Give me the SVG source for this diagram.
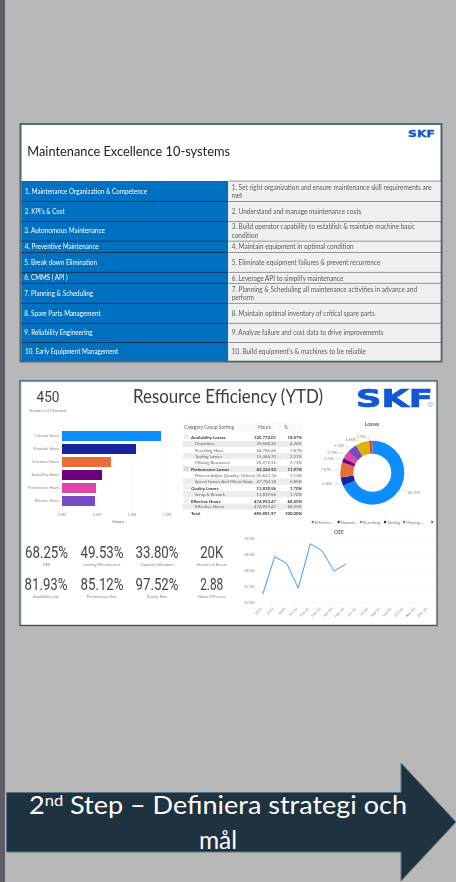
<svg xmlns="http://www.w3.org/2000/svg" width="456" height="882" viewBox="0 0 456 882">
<defs>
<filter id="soft" x="-2%" y="-2%" width="104%" height="104%"><feGaussianBlur stdDeviation="0.38"/></filter>
</defs>
<style>
text{font-family:"Lato","Open Sans","Liberation Sans",sans-serif}
.l{font-size:6.6px;fill:#fff}
.r{font-size:6.6px;fill:#595959}
.sepL{stroke:#12395a;stroke-width:1}
.sepR{stroke:#8f9699;stroke-width:1}
.ax{font-size:3.6px;fill:#8a8a8a}
.axr{font-size:3.6px;fill:#8a8a8a;text-anchor:end}
.axm{font-size:3.6px;fill:#8a8a8a;text-anchor:middle}
.lg{font-size:4.2px;fill:#777}
.grid{stroke:#e4e4e4;stroke-width:.6;stroke-dasharray:.8 1.2;fill:none}
.tb{font-size:4.3px;fill:#666}
.tbb{font-size:4.3px;fill:#333;font-weight:700}
.num{font-size:4.3px;fill:#666;text-anchor:end}
.numb{font-size:4.3px;fill:#333;font-weight:700;text-anchor:end}
.kpi{font-family:"Roboto","Liberation Sans",sans-serif;font-size:16px;fill:#444;text-anchor:middle}
.kl{font-size:3.9px;fill:#888;text-anchor:middle}
.lead{stroke:#bbb;stroke-width:.5;fill:none}
.logo{font-family:"DejaVu Sans",sans-serif;font-weight:700;fill:#1257d6;stroke:#1257d6}
</style>
<rect width="456" height="882" fill="#b8b8b8"/>
<rect x="0" y="0" width="5" height="882" fill="#5f5e66"/>

<g id="slide-maintenance" filter="url(#soft)">
<rect x="20.500" y="124" width="421" height="237.500" fill="#fff" stroke="#4f6472" stroke-width="1.600"/>
<text class="logo" x="408" y="136.600" font-size="9" stroke-width=".3" textLength="27" lengthAdjust="spacingAndGlyphs">SKF</text>
<text x="27.300" y="155.700" font-size="14.200" fill="#222" textLength="202.700" lengthAdjust="spacingAndGlyphs">Maintenance Excellence 10-systems</text>
<rect x="21.300" y="181" width="207" height="180" fill="#0070c0"/>
<rect x="228.300" y="181" width="212.400" height="180" fill="#f0f0f0"/>
<g>
<path class="sepL" d="M21 201.500H228M21 221.500H228M21 241.200H228M21 252.500H228M21 272.400H228M21 283.400H228M21 303.400H228M21 323.400H228M21 342.500H228"/>
<path class="sepR" d="M228.500 181H441M228.500 201.500H441M228.500 221.500H441M228.500 241.200H441M228.500 252.500H441M228.500 272.400H441M228.500 283.400H441M228.500 303.400H441M228.500 323.400H441M228.500 342.500H441"/>
</g>
<text class="l" x="25" y="193.900" textLength="122" lengthAdjust="spacingAndGlyphs">1. Maintenance Organization &amp; Competence</text>
<text class="l" x="24.700" y="213.900" textLength="40" lengthAdjust="spacingAndGlyphs">2. KPI's &amp; Cost</text>
<text class="l" x="24.300" y="233.200" textLength="80.700" lengthAdjust="spacingAndGlyphs">3. Autonomous Maintenance</text>
<text class="l" x="24.700" y="249.200" textLength="74" lengthAdjust="spacingAndGlyphs">4. Preventive Maintenance</text>
<text class="l" x="24.300" y="264.900" textLength="72.700" lengthAdjust="spacingAndGlyphs">5. Break down Elimination</text>
<text class="l" x="24.300" y="280.200" textLength="43.400" lengthAdjust="spacingAndGlyphs">6. CMMS ( API )</text>
<text class="l" x="24.300" y="296.200" textLength="68.700" lengthAdjust="spacingAndGlyphs">7. Planning &amp; Scheduling</text>
<text class="l" x="24.300" y="315.900" textLength="76.400" lengthAdjust="spacingAndGlyphs">8. Spare Parts Management</text>
<text class="l" x="24.300" y="335.200" textLength="68.400" lengthAdjust="spacingAndGlyphs">9. Reliability Engineering</text>
<text class="l" x="25" y="354.200" textLength="93.300" lengthAdjust="spacingAndGlyphs">10. Early Equipment Management</text>
<text class="r" x="231.700" y="189.500" textLength="199.600" lengthAdjust="spacingAndGlyphs">1. Set right organization and ensure maintenance skill requirements are</text>
<text class="r" x="231.700" y="198.200" textLength="10.600" lengthAdjust="spacingAndGlyphs">met</text>
<text class="r" x="231.700" y="213.900" textLength="129.600" lengthAdjust="spacingAndGlyphs">2. Understand and manage maintenance costs</text>
<text class="r" x="231.700" y="229.200" textLength="183.300" lengthAdjust="spacingAndGlyphs">3. Build operator capability to establish &amp; maintain machine basic</text>
<text class="r" x="231.700" y="237.900" textLength="26.600" lengthAdjust="spacingAndGlyphs">condition</text>
<text class="r" x="231.700" y="249.200" textLength="122" lengthAdjust="spacingAndGlyphs">4. Maintain equipment in optimal condition</text>
<text class="r" x="231.700" y="264.900" textLength="148.600" lengthAdjust="spacingAndGlyphs">5. Eliminate equipment failures &amp; prevent recurrence</text>
<text class="r" x="231.700" y="280.500" textLength="111.600" lengthAdjust="spacingAndGlyphs">6. Leverage API to simplify maintenance</text>
<text class="r" x="231.700" y="291.900" textLength="185.300" lengthAdjust="spacingAndGlyphs">7. Planning &amp; Scheduling all maintenance activities in advance and</text>
<text class="r" x="231.700" y="300.200" textLength="22.300" lengthAdjust="spacingAndGlyphs">perform</text>
<text class="r" x="231.700" y="315.900" textLength="143" lengthAdjust="spacingAndGlyphs">8. Maintain optimal inventory of critical spare parts</text>
<text class="r" x="231.700" y="335.200" textLength="151.600" lengthAdjust="spacingAndGlyphs">9. Analyze failure and cost data to drive improvements</text>
<text class="r" x="231.700" y="353.900" textLength="134.300" lengthAdjust="spacingAndGlyphs">10. Build equipment's &amp; machines to be reliable</text>
<rect x="20.500" y="124" width="421" height="237.500" fill="none" stroke="#4f6472" stroke-width="1.600"/>
</g>

<g id="slide-resource" filter="url(#soft)">
<rect x="20" y="381" width="417" height="244.500" fill="#fff" stroke="#3f5563" stroke-width="1.400"/>
<rect x="21.200" y="382" width="414.800" height="242.400" fill="none" stroke="#cfcfcf" stroke-width=".6"/>
<text x="48" y="401.700" font-size="15.500" fill="#444" text-anchor="middle" style="font-family:Roboto,sans-serif" textLength="23" lengthAdjust="spacingAndGlyphs">450</text>
<text x="48" y="411.800" font-size="4.200" fill="#888" text-anchor="middle">Number of Channels</text>
<text x="133" y="403" font-size="18.800" fill="#3c3c3c" textLength="190" lengthAdjust="spacingAndGlyphs">Resource Efficiency (YTD)</text>
<text class="logo" x="356" y="406.500" font-size="24" stroke-width=".7" textLength="77" lengthAdjust="spacingAndGlyphs">SKF</text>
<circle cx="430.500" cy="404.500" r="1.800" fill="none" stroke="#6f9fe0" stroke-width=".8"/>

<g id="bar-chart">
<path class="grid" d="M97 425V510M132 425V510M167 425V510"/>
<rect x="62" y="431" width="99" height="10" fill="#118dff"/>
<rect x="62" y="444" width="74" height="10" fill="#12239e"/>
<rect x="62" y="457" width="49" height="10" fill="#e66c37"/>
<rect x="62" y="470" width="40" height="10" fill="#6b007b"/>
<rect x="62" y="483" width="34" height="10" fill="#e044a7"/>
<rect x="62" y="496" width="33" height="10" fill="#744ec2"/>
<text class="axr" x="59" y="437.300">Calendar Hours</text>
<text class="axr" x="59" y="450.300">Plannable Hours</text>
<text class="axr" x="59" y="463.300">Scheduled Hours</text>
<text class="axr" x="59" y="476.300">Availability Hours</text>
<text class="axr" x="59" y="489.300">Performance Hours</text>
<text class="axr" x="59" y="502.300">Effective Hours</text>
<text class="axm" x="62" y="516.200">0.0M</text>
<text class="axm" x="97" y="516.200">0.5M</text>
<text class="axm" x="132" y="516.200">1.0M</text>
<text class="axm" x="167" y="516.200">1.5M</text>
<text x="118" y="522.500" font-size="4.400" fill="#666" text-anchor="middle">Hours</text>
</g>

<g id="loss-table">
<rect x="183" y="422" width="119" height="10" fill="#fbfbfb"/>
<path d="M256.500 422V516M280 422V516" stroke="#efefef" stroke-width=".6"/>
<rect x="183" y="440.800" width="119" height="6.200" fill="#ececec"/>
<rect x="183" y="453" width="119" height="6.200" fill="#ececec"/>
<rect x="183" y="465.800" width="119" height="6.200" fill="#ececec"/>
<rect x="183" y="478.500" width="119" height="6.200" fill="#ececec"/>
<rect x="183" y="491" width="119" height="6.200" fill="#ececec"/>
<rect x="183" y="503.500" width="119" height="6.200" fill="#ececec"/>
<text x="184" y="428.500" font-size="4.800" fill="#666">Category Group Sorting</text>
<text x="258" y="428.500" font-size="4.800" fill="#666">Hours</text>
<text x="284" y="428.500" font-size="4.800" fill="#666">%</text>
<g fill="none" stroke="#aaa" stroke-width=".4">
<rect x="185" y="435" width="3" height="3"/><rect x="185" y="467.400" width="3" height="3"/><rect x="185" y="486" width="3" height="3"/><rect x="185" y="498.900" width="3" height="3"/>
</g>
<text class="tbb" x="191" y="438.600">Availability Losses</text><text class="numb" x="276" y="438.600">125,772.01</text><text class="numb" x="302" y="438.600">18.07%</text>
<text class="tb" x="195" y="444.900">Downtime</text><text class="num" x="276" y="444.900">29,668.26</text><text class="num" x="302" y="444.900">4.26%</text>
<text class="tb" x="195" y="451.600">Resetting Hour</text><text class="num" x="276" y="451.600">54,766.66</text><text class="num" x="302" y="451.600">7.87%</text>
<text class="tb" x="195" y="457.600">Tooling Losses</text><text class="num" x="276" y="457.600">15,366.70</text><text class="num" x="302" y="457.600">2.21%</text>
<text class="tb" x="195" y="463.900">Missing Resources</text><text class="num" x="276" y="463.900">25,972.35</text><text class="num" x="302" y="463.900">3.73%</text>
<text class="tbb" x="191" y="470.900">Performance Losses</text><text class="numb" x="276" y="470.900">83,324.92</text><text class="numb" x="302" y="470.900">11.97%</text>
<text class="tb" x="195" y="476.900" textLength="60" lengthAdjust="spacingAndGlyphs">Process Adjust (Quality, Others)</text><text class="num" x="276" y="476.900">35,623.74</text><text class="num" x="302" y="476.900">5.12%</text>
<text class="tb" x="195" y="483.300" textLength="58" lengthAdjust="spacingAndGlyphs">Speed Losses And Minor Stops</text><text class="num" x="276" y="483.300">47,700.18</text><text class="num" x="302" y="483.300">6.85%</text>
<text class="tbb" x="191" y="489.600">Quality Losses</text><text class="numb" x="276" y="489.600">11,839.56</text><text class="numb" x="302" y="489.600">1.70%</text>
<text class="tb" x="195" y="495.900">Scrap &amp; Rework</text><text class="num" x="276" y="495.900">11,839.56</text><text class="num" x="302" y="495.900">1.70%</text>
<text class="tbb" x="191" y="502.500">Effective Hours</text><text class="numb" x="276" y="502.500">474,953.47</text><text class="numb" x="302" y="502.500">68.25%</text>
<text class="tb" x="195" y="508.300">Effective Hours</text><text class="num" x="276" y="508.300">474,953.47</text><text class="num" x="302" y="508.300">68.25%</text>
<text class="tbb" x="191" y="514.600">Total</text><text class="numb" x="276" y="514.600">695,891.97</text><text class="numb" x="302" y="514.600">100.00%</text>
</g>

<g id="donut">
<text x="372" y="426" font-size="5" fill="#666" text-anchor="middle" font-weight="700">Losses</text>
<g transform="rotate(-90 372.300 472.700)" fill="none" stroke-width="13">
<circle cx="372.300" cy="472.700" r="25.500" pathLength="100" stroke="#118dff" stroke-dasharray="68.25 100"/>
<circle cx="372.300" cy="472.700" r="25.500" pathLength="100" stroke="#12239e" stroke-dasharray="4.26 100" stroke-dashoffset="-68.25"/>
<circle cx="372.300" cy="472.700" r="25.500" pathLength="100" stroke="#e66c37" stroke-dasharray="7.87 100" stroke-dashoffset="-72.51"/>
<circle cx="372.300" cy="472.700" r="25.500" pathLength="100" stroke="#6b007b" stroke-dasharray="2.21 100" stroke-dashoffset="-80.38"/>
<circle cx="372.300" cy="472.700" r="25.500" pathLength="100" stroke="#e044a7" stroke-dasharray="3.73 100" stroke-dashoffset="-82.59"/>
<circle cx="372.300" cy="472.700" r="25.500" pathLength="100" stroke="#744ec2" stroke-dasharray="5.12 100" stroke-dashoffset="-86.32"/>
<circle cx="372.300" cy="472.700" r="25.500" pathLength="100" stroke="#d9b300" stroke-dasharray="6.85 100" stroke-dashoffset="-91.44"/>
<circle cx="372.300" cy="472.700" r="25.500" pathLength="100" stroke="#d64550" stroke-dasharray="1.71 100" stroke-dashoffset="-98.29"/>
</g>
<path class="lead" d="M401 488L407 492H408M341 484H334M339 470H333M343 460L339 458.700H335M345 454.500L341 453H337M350 448L347 446H345M358 441L355 439H354M369 440V437H367"/>
<text class="ax" x="408" y="494">68.25%</text>
<text class="ax" x="322" y="485.200">4.26%</text>
<text class="ax" x="321" y="471.200">7.87%</text>
<text class="ax" x="324" y="460.200">2.21%</text>
<text class="ax" x="327" y="454.200">3.73%</text>
<text class="ax" x="334" y="447.200">5.12%</text>
<text class="ax" x="345.500" y="440.500">6.85%</text>
<text class="ax" x="356" y="438">1.70%</text>
</g>

<g id="legend">
<circle cx="312.700" cy="522" r="1.200" fill="#118dff"/><text class="lg" x="314.800" y="523.500">Effective ...</text>
<circle cx="338.700" cy="522" r="1.200" fill="#12239e"/><text class="lg" x="340.800" y="523.500">Downti...</text>
<circle cx="361" cy="522" r="1.200" fill="#e66c37"/><text class="lg" x="363" y="523.500">Resetting</text>
<circle cx="385" cy="522" r="1.200" fill="#6b007b"/><text class="lg" x="387" y="523.500">Tooling</text>
<circle cx="404" cy="522" r="1.200" fill="#e044a7"/><text class="lg" x="406" y="523.500">Missing ...</text>
<path d="M431.500 520.500L433.500 522L431.500 523.500Z" fill="#333"/>
</g>

<g id="line-chart">
<text x="339" y="533.800" font-size="5" fill="#666" text-anchor="middle" font-weight="700">OEE</text>
<path class="grid" d="M257 539H434M257 555H434M257 571H434M257 587H434M257 603H434"/>
<text class="ax" x="244.500" y="540.200">69.0%</text>
<text class="ax" x="244.500" y="556.200">68.5%</text>
<text class="ax" x="244.500" y="572.200">68.0%</text>
<text class="ax" x="244.500" y="588.200">67.5%</text>
<text class="ax" x="244.500" y="604.200">67.0%</text>
<polyline points="262.700,594.300 274.700,556.700 286.700,563.300 298.300,588.300 310.300,543.700 322,550.700 334,571 346,564" fill="none" stroke="#3f9bf2" stroke-width="1"/>
<g text-anchor="end">
<text class="ax" transform="translate(262 609) rotate(-45)">2018</text>
<text class="ax" transform="translate(273.800 609) rotate(-45)">2019</text>
<text class="ax" transform="translate(285.600 609) rotate(-45)">2020</text>
<text class="ax" transform="translate(297.400 609) rotate(-45)">Jan-20</text>
<text class="ax" transform="translate(309.200 609) rotate(-45)">Feb-20</text>
<text class="ax" transform="translate(321 609) rotate(-45)">Mar-20</text>
<text class="ax" transform="translate(332.800 609) rotate(-45)">Apr-20</text>
<text class="ax" transform="translate(344.600 609) rotate(-45)">May-20</text>
<text class="ax" transform="translate(356.400 609) rotate(-45)">Jun-20</text>
<text class="ax" transform="translate(368.200 609) rotate(-45)">Jul-20</text>
<text class="ax" transform="translate(380 609) rotate(-45)">Aug-20</text>
<text class="ax" transform="translate(391.800 609) rotate(-45)">Sep-20</text>
<text class="ax" transform="translate(403.600 609) rotate(-45)">Oct-20</text>
<text class="ax" transform="translate(415.400 609) rotate(-45)">Nov-20</text>
<text class="ax" transform="translate(427.200 609) rotate(-45)">Dec-20</text>
</g>
</g>

<g id="kpis">
<text class="kpi" x="46.500" y="558" textLength="43" lengthAdjust="spacingAndGlyphs">68.25%</text><text class="kl" x="46.500" y="566">OEE</text>
<text class="kpi" x="102" y="558" textLength="43" lengthAdjust="spacingAndGlyphs">49.53%</text><text class="kl" x="102" y="566">Loading Effectiveness</text>
<text class="kpi" x="157" y="558" textLength="43" lengthAdjust="spacingAndGlyphs">33.80%</text><text class="kl" x="157" y="566">Capacity Utilization</text>
<text class="kpi" x="211.700" y="558" textLength="23" lengthAdjust="spacingAndGlyphs">20K</text><text class="kl" x="211.700" y="566">Number of Resets</text>
<text class="kpi" x="46" y="590" textLength="43" lengthAdjust="spacingAndGlyphs">81.93%</text><text class="kl" x="46" y="598">Availability rate</text>
<text class="kpi" x="102" y="590" textLength="43" lengthAdjust="spacingAndGlyphs">85.12%</text><text class="kl" x="102" y="598">Performance Rate</text>
<text class="kpi" x="157" y="590" textLength="43" lengthAdjust="spacingAndGlyphs">97.52%</text><text class="kl" x="157" y="598">Quality Rate</text>
<text class="kpi" x="211.700" y="590" textLength="23" lengthAdjust="spacingAndGlyphs">2.88</text><text class="kl" x="211.700" y="598">Hours/MT-reset</text>
</g>
</g>

<g id="step-arrow">
<polygon points="6.500,792.500 401,792.500 401,763 456,822 401,881 401,852 6.500,852" fill="#1e3240" stroke="#5e7482" stroke-width="1"/>
<text x="218" y="814" font-size="24.500" fill="#fff" text-anchor="middle" textLength="378" lengthAdjust="spacingAndGlyphs">2<tspan dy="-8" font-size="15">nd</tspan><tspan dy="8"> Step – Definiera strategi och</tspan></text>
<text x="218" y="849" font-size="24.500" fill="#fff" text-anchor="middle">mål</text>
</g>
</svg>
